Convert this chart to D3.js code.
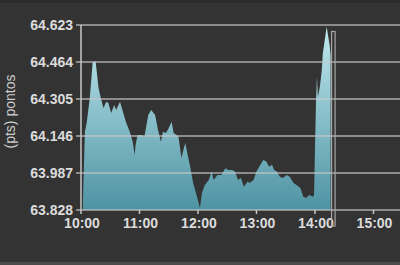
<!DOCTYPE html>
<html>
<head>
<meta charset="utf-8">
<script src="https://cdn.jsdelivr.net/npm/d3@7"></script>
<style>
  body { margin: 0; background: #333333; }
  svg { display: block; }
</style>
</head>
<body>
<div id="chart"></div>
<script>
// intraday quotes (time of day, points)
var times = ["10:02","10:04","10:06","10:09","10:12","10:15","10:18","10:20","10:23","10:26",
  "10:28","10:31","10:34","10:36","10:40","10:43","10:46","10:50","10:53","10:55",
  "10:56","10:58","11:02","11:05","11:09","11:12","11:16","11:19","11:22","11:24",
  "11:27","11:29","11:33","11:35","11:38","11:40","11:43","11:45","11:47","11:49",
  "11:52","11:55","11:59","12:02","12:04","12:07","12:11","12:14","12:16","12:20",
  "12:24","12:28","12:31","12:35","12:38","12:41","12:44","12:47","12:51","12:53",
  "12:57","13:00","13:04","13:07","13:10","13:13","13:16","13:18","13:21","13:24",
  "13:27","13:31","13:34","13:38","13:41","13:45","13:48","13:51","13:54","13:58",
  "13:59","14:01","14:02","14:03","14:05","14:07","14:08","14:10","14:12","14:13",
  "14:15","14:16"];
var values = [63.871,64.164,64.207,64.309,64.464,64.466,64.352,64.315,64.266,64.293,
  64.288,64.245,64.279,64.258,64.293,64.250,64.207,64.164,64.121,64.064,
  64.107,64.150,64.150,64.143,64.236,64.258,64.236,64.172,64.121,64.164,
  64.159,64.172,64.207,64.159,64.150,64.143,64.051,64.086,64.116,64.073,
  64.014,63.944,63.885,63.837,63.901,63.935,63.957,63.993,63.957,63.978,
  63.978,64.007,64.000,64.000,63.993,63.957,63.966,63.928,63.950,63.944,
  63.957,63.993,64.022,64.043,64.036,64.014,64.022,64.000,63.993,63.971,
  63.966,63.978,63.971,63.944,63.935,63.923,63.885,63.880,63.892,63.885,
  63.892,64.288,64.401,64.315,64.358,64.430,64.501,64.559,64.616,64.589,
  64.537,64.494];

var yTicks = [63.828, 63.987, 64.146, 64.305, 64.464, 64.623];
var xTicks = ["10:00","11:00","12:00","13:00","14:00","15:00"];
var yLabel = "(pts) pontos";
// end marker of the session window
var markerTime = "14:17";

var W = 400, H = 265;
var margin = {top: 25, right: 26.5, bottom: 55, left: 81};

var parse = d3.timeParse("%H:%M");
var data = times.map(function(t, i) { return {t: parse(t), v: values[i]}; });

var x = d3.scaleTime()
    .domain([parse(xTicks[0]), parse(xTicks[xTicks.length - 1])])
    .range([margin.left, W - margin.right]);

var y = d3.scaleLinear()
    .domain([yTicks[0], yTicks[yTicks.length - 1]])
    .range([H - margin.bottom, margin.top]);

var svg = d3.select("#chart").append("svg")
    .attr("width", W)
    .attr("height", H);

svg.append("rect").attr("width", W).attr("height", H).attr("fill", "#333333");
svg.append("rect").attr("width", W).attr("height", 3).attr("fill", "#2b2b2b");
svg.append("rect").attr("y", H - 3).attr("width", W).attr("height", 3).attr("fill", "#4a4a4a");

// gradient fill for the area
var grad = svg.append("defs").append("linearGradient")
    .attr("id", "fillGrad")
    .attr("gradientUnits", "userSpaceOnUse")
    .attr("x1", 0).attr("x2", 0)
    .attr("y1", y.range()[1]).attr("y2", y.range()[0]);
grad.append("stop").attr("offset", "0%").attr("stop-color", "#c2eaf0");
grad.append("stop").attr("offset", "100%").attr("stop-color", "#4e93a3");

var area = d3.area()
    .x(function(d) { return x(d.t); })
    .y0(y(yTicks[0]))
    .y1(function(d) { return y(d.v); });

svg.append("path")
    .datum(data)
    .attr("d", area)
    .attr("fill", "url(#fillGrad)");

// horizontal grid lines, over the area
svg.append("g")
  .selectAll("line")
  .data(yTicks)
  .enter().append("line")
    .attr("x1", margin.left - 5)
    .attr("x2", W)
    .attr("y1", function(d) { return y(d); })
    .attr("y2", function(d) { return y(d); })
    .attr("stroke", "#c8c8c8")
    .attr("stroke-opacity", 0.8)
    .attr("stroke-width", 1.5);

// y axis line
svg.append("line")
    .attr("x1", margin.left).attr("x2", margin.left)
    .attr("y1", y.range()[1]).attr("y2", y.range()[0])
    .attr("stroke", "#c8c8c8")
    .attr("stroke-width", 1.5);

// y tick labels
svg.append("g")
  .selectAll("text")
  .data(yTicks)
  .enter().append("text")
    .attr("x", margin.left - 8)
    .attr("y", function(d) { return y(d); })
    .attr("dy", "0.36em")
    .attr("text-anchor", "end")
    .attr("font-family", "Liberation Sans, Arial, sans-serif")
    .attr("font-weight", "bold")
    .attr("font-size", 14)
    .attr("fill", "#dcdcdc")
    .text(function(d) { return d3.format(".3f")(d); });

// x ticks and labels
var xg = svg.append("g")
  .selectAll("g")
  .data(xTicks)
  .enter().append("g")
    .attr("transform", function(d) { return "translate(" + x(parse(d)) + "," + y.range()[0] + ")"; });
xg.append("line")
    .attr("y1", 0).attr("y2", 4)
    .attr("stroke", "#c8c8c8")
    .attr("stroke-width", 1.5);
xg.append("text")
    .attr("x", 1)
    .attr("y", 18)
    .attr("text-anchor", "middle")
    .attr("font-family", "Liberation Sans, Arial, sans-serif")
    .attr("font-weight", "bold")
    .attr("font-size", 14)
    .attr("fill", "#dcdcdc")
    .text(function(d) { return d; });

// session end marker
var mx = x(parse(markerTime));
svg.append("rect")
    .attr("x", mx)
    .attr("y", 31.5)
    .attr("width", 3.5)
    .attr("height", 194.5)
    .attr("fill", "none")
    .attr("stroke", "#a8a8a8")
    .attr("stroke-width", 1.2);

// y axis title
svg.append("text")
    .attr("transform", "translate(15," + ((y.range()[0] + y.range()[1]) / 2 - 6) + ") rotate(-90)")
    .attr("text-anchor", "middle")
    .attr("font-family", "Liberation Sans, Arial, sans-serif")
    .attr("font-size", 14)
    .attr("fill", "#cfcfcf")
    .text(yLabel);
</script>
</body>
</html>
